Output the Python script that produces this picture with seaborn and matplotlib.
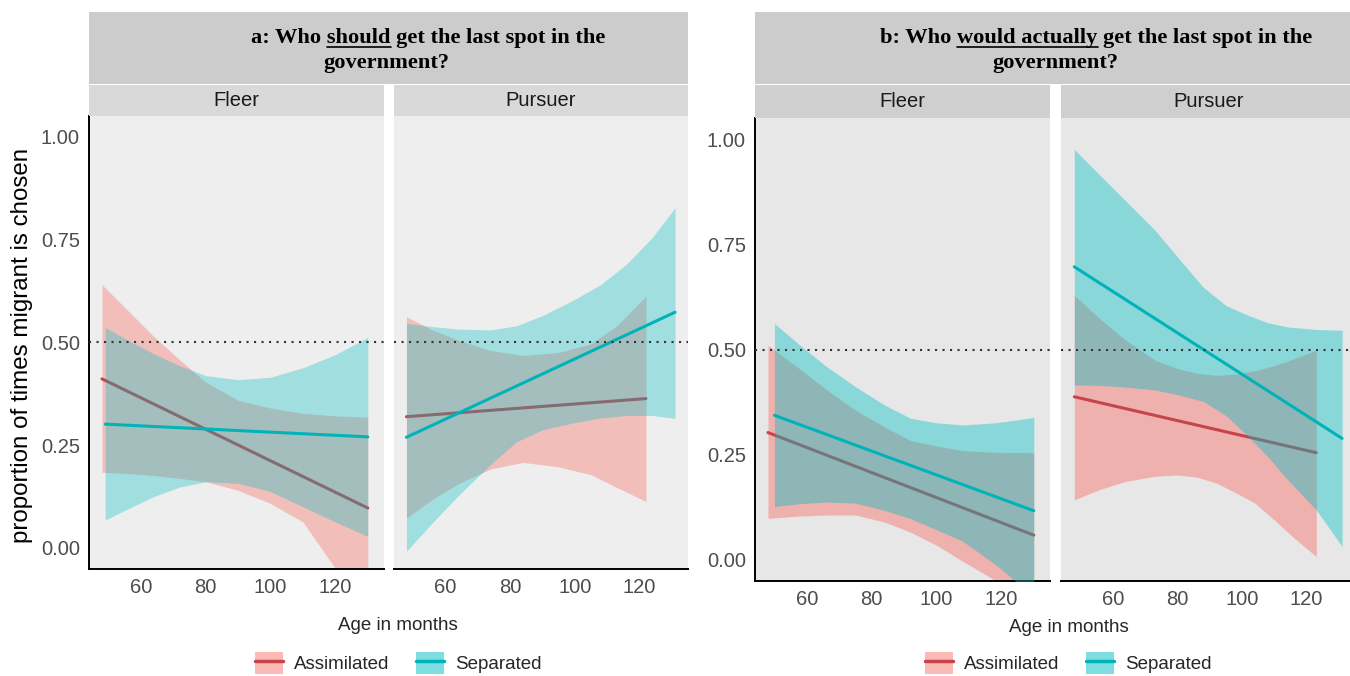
import matplotlib
matplotlib.use("Agg")
import matplotlib.pyplot as plt
from matplotlib.patches import Rectangle, Patch
from matplotlib.lines import Line2D
import seaborn as sns
import pandas as pd

W, H = 1350, 676

# ---- values ----
GROUPS = ["Assimilated", "Separated"]
FACETS = ["Fleer", "Pursuer"]
Y_TICKS = [0.00, 0.25, 0.50, 0.75, 1.00]
X_TICKS = [60, 80, 100, 120]
CHANCE = 0.5
TITLE_A = ("a: Who should get the last spot in the", "government?", "a: Who ", "should")
TITLE_B = ("b: Who would actually get the last spot in the", "government?", "b: Who ", "would actually")

# panel a / Fleer
a_fl_asm_age = [48, 56, 64, 72, 80, 90, 100, 110, 120, 130]
a_fl_asm_hi = [0.640, 0.577, 0.514, 0.457, 0.403, 0.359, 0.340, 0.327, 0.321, 0.318]
a_fl_asm_lo = [0.184, 0.181, 0.176, 0.169, 0.161, 0.140, 0.108, 0.063, -0.050, -0.170]
a_fl_asm_fit_age = [48, 130]
a_fl_asm_fit = [0.411, 0.097]

a_fl_sep_age = [49, 56, 64, 72, 80, 90, 100, 110, 120, 130]
a_fl_sep_hi = [0.536, 0.505, 0.472, 0.443, 0.419, 0.409, 0.415, 0.438, 0.470, 0.512]
a_fl_sep_lo = [0.068, 0.095, 0.125, 0.148, 0.161, 0.157, 0.137, 0.100, 0.063, 0.028]
a_fl_sep_fit_age = [49, 130]
a_fl_sep_fit = [0.301, 0.270]

# panel a / Pursuer
a_pu_asm_age = [48, 56, 64, 74, 84, 95, 105, 113, 122]
a_pu_asm_hi = [0.562, 0.530, 0.505, 0.480, 0.468, 0.475, 0.496, 0.540, 0.612]
a_pu_asm_lo = [0.073, 0.118, 0.156, 0.192, 0.208, 0.197, 0.178, 0.147, 0.113]
a_pu_asm_fit_age = [48, 122]
a_pu_asm_fit = [0.319, 0.363]

a_pu_sep_age = [48, 56, 64, 74, 82, 90, 99, 108, 116, 124, 131]
a_pu_sep_hi = [0.546, 0.538, 0.532, 0.530, 0.540, 0.565, 0.600, 0.640, 0.690, 0.755, 0.827]
a_pu_sep_lo = [-0.008, 0.061, 0.127, 0.203, 0.258, 0.287, 0.303, 0.316, 0.322, 0.322, 0.315]
a_pu_sep_fit_age = [48, 131]
a_pu_sep_fit = [0.269, 0.573]

# panel b / Fleer
b_fl_asm_age = [48, 57, 66, 75, 84, 92, 100, 108, 118, 130]
b_fl_asm_hi = [0.511, 0.459, 0.405, 0.356, 0.316, 0.284, 0.271, 0.260, 0.256, 0.255]
b_fl_asm_lo = [0.099, 0.104, 0.107, 0.107, 0.090, 0.066, 0.035, -0.003, -0.048, -0.130]
b_fl_asm_fit_age = [48, 130]
b_fl_asm_fit = [0.303, 0.059]

b_fl_sep_age = [50, 58, 66, 75, 84, 92, 100, 108, 118, 124, 130]
b_fl_sep_hi = [0.562, 0.510, 0.460, 0.412, 0.368, 0.337, 0.326, 0.321, 0.326, 0.332, 0.339]
b_fl_sep_lo = [0.127, 0.134, 0.138, 0.135, 0.118, 0.098, 0.072, 0.045, -0.010, -0.048, -0.090]
b_fl_sep_fit_age = [50, 130]
b_fl_sep_fit = [0.344, 0.117]

# panel b / Pursuer
b_pu_asm_age = [48, 56, 64, 73, 80, 86, 92, 98, 104, 110, 116, 123]
b_pu_asm_hi = [0.629, 0.573, 0.522, 0.475, 0.455, 0.444, 0.439, 0.442, 0.450, 0.462, 0.478, 0.499]
b_pu_asm_lo = [0.143, 0.168, 0.187, 0.199, 0.202, 0.197, 0.183, 0.160, 0.135, 0.095, 0.053, 0.008]
b_pu_asm_fit_age = [48, 123]
b_pu_asm_fit = [0.388, 0.255]

b_pu_sep_age = [48, 56, 64, 73, 80, 88, 95, 102, 108, 114, 123, 131]
b_pu_sep_hi = [0.976, 0.914, 0.853, 0.784, 0.720, 0.648, 0.605, 0.581, 0.564, 0.554, 0.548, 0.546]
b_pu_sep_lo = [0.416, 0.415, 0.411, 0.404, 0.393, 0.377, 0.343, 0.293, 0.245, 0.192, 0.119, 0.032]
b_pu_sep_fit_age = [48, 131]
b_pu_sep_fit = [0.697, 0.289]

# ---- long tables ----
ribbon_rows, fit_rows = [], []


def add_series(panel, facet, group, age, lo, hi, fit_age, fit):
    for x, l, h in zip(age, lo, hi):
        ribbon_rows.append(dict(panel=panel, facet=facet, group=group, age=x, lo=l, hi=h))
    for x, f in zip(fit_age, fit):
        fit_rows.append(dict(panel=panel, facet=facet, group=group, age=x, fit=f))


add_series("a", "Fleer", "Assimilated", a_fl_asm_age, a_fl_asm_lo, a_fl_asm_hi, a_fl_asm_fit_age, a_fl_asm_fit)
add_series("a", "Fleer", "Separated", a_fl_sep_age, a_fl_sep_lo, a_fl_sep_hi, a_fl_sep_fit_age, a_fl_sep_fit)
add_series("a", "Pursuer", "Assimilated", a_pu_asm_age, a_pu_asm_lo, a_pu_asm_hi, a_pu_asm_fit_age, a_pu_asm_fit)
add_series("a", "Pursuer", "Separated", a_pu_sep_age, a_pu_sep_lo, a_pu_sep_hi, a_pu_sep_fit_age, a_pu_sep_fit)
add_series("b", "Fleer", "Assimilated", b_fl_asm_age, b_fl_asm_lo, b_fl_asm_hi, b_fl_asm_fit_age, b_fl_asm_fit)
add_series("b", "Fleer", "Separated", b_fl_sep_age, b_fl_sep_lo, b_fl_sep_hi, b_fl_sep_fit_age, b_fl_sep_fit)
add_series("b", "Pursuer", "Assimilated", b_pu_asm_age, b_pu_asm_lo, b_pu_asm_hi, b_pu_asm_fit_age, b_pu_asm_fit)
add_series("b", "Pursuer", "Separated", b_pu_sep_age, b_pu_sep_lo, b_pu_sep_hi, b_pu_sep_fit_age, b_pu_sep_fit)

ribbons = pd.DataFrame(ribbon_rows)
fits = pd.DataFrame(fit_rows)

# ---- style ----
sns.set_style("white")
plt.rcParams["font.family"] = ["Liberation Sans", "DejaVu Sans"]

FILL = {"Assimilated": "#F8766D", "Separated": "#00BFC4"}
LINE = {"Assimilated": "#C6444A", "Separated": "#00B3B9"}
ALPHA = {("a", "Assimilated"): 0.40, ("a", "Separated"): 0.32,
         ("b", "Assimilated"): 0.47, ("b", "Separated"): 0.40}
PANEL_BG = {"a": "#EEEEEE", "b": "#E7E7E7"}
STRIP_BG = {"a": "#D9D9D9", "b": "#CFCFCF"}
TITLE_BG = {"a": "#CCCCCC", "b": "#CCCCCC"}

# pixel boxes (left, top, right, bottom) of every facet
AX_BOX = {
    ("a", "Fleer"): (89, 116, 384, 568.5),
    ("a", "Pursuer"): (393.5, 116, 688, 568.5),
    ("b", "Fleer"): (755, 118.3, 1050, 581),
    ("b", "Pursuer"): (1061.4, 118.3, 1355, 581),
}


def fig_rect(l, t, r, b):
    return [l / W, 1 - b / H, (r - l) / W, (b - t) / H]


fig = plt.figure(figsize=(W / 100, H / 100), dpi=100)

for (panel, facet), (l, t, r, b) in AX_BOX.items():
    ax = fig.add_axes(fig_rect(l, t, r, b))
    ax.set_facecolor(PANEL_BG[panel])
    z = 2
    for group in GROUPS:
        rib = ribbons[(ribbons.panel == panel) & (ribbons.facet == facet) & (ribbons.group == group)]
        ax.fill_between(rib.age, rib.lo, rib.hi, color=FILL[group], alpha=ALPHA[(panel, group)],
                        linewidth=0, zorder=z)
        ft = fits[(fits.panel == panel) & (fits.facet == facet) & (fits.group == group)]
        sns.lineplot(data=ft, x="age", y="fit", color=LINE[group], linewidth=2.2,
                     ax=ax, zorder=z + 1, legend=False)
        z += 2
    ax.axhline(CHANCE, color="#333333", linestyle=(0, (1, 2.6)), linewidth=1.5, zorder=10)

    ax.set_xlim(44, 135)
    ax.set_ylim(-0.05, 1.05)
    ax.set_xlabel("")
    ax.set_ylabel("")
    ax.set_xticks(X_TICKS)
    ax.set_yticks(Y_TICKS)
    ax.set_yticklabels([f"{v:.2f}" for v in Y_TICKS])
    ax.grid(False)
    for side in ["top", "right"]:
        ax.spines[side].set_visible(False)
    ax.spines["bottom"].set_color("black")
    ax.spines["bottom"].set_linewidth(1.4)
    ax.tick_params(axis="both", length=3.6, width=1.0, color="#333333",
                   labelsize=14.5, labelcolor="#4D4D4D", pad=3)
    if facet == "Fleer":
        ax.spines["left"].set_color("black")
        ax.spines["left"].set_linewidth(1.4)
    else:
        ax.spines["left"].set_visible(False)
        ax.tick_params(axis="y", left=False, labelleft=False)

    # facet strip
    sl, sb, sw, sh = fig_rect(l, 85, r, t)
    fig.add_artist(Rectangle((sl, sb), sw, sh, transform=fig.transFigure,
                             facecolor=STRIP_BG[panel], edgecolor="none"))
    fig.text((l + r) / 2 / W, 1 - (85 + t) / 2 / H, facet, ha="center", va="center",
             fontsize=14.5, color="#1A1A1A")

# title boxes across each pair of facets
title_font = dict(family="Liberation Serif", weight="bold", size=16.1, color="black")
title_texts = []
for panel, (l, r), txt, c1, c2 in [("a", (89, 688), TITLE_A, 428.4, 386.7),
                                   ("b", (755, 1350), TITLE_B, 1096.5, 1055.5)]:
    tl, tb, tw, th = fig_rect(l, 12, r, 84)
    fig.add_artist(Rectangle((tl, tb), tw, th, transform=fig.transFigure,
                             facecolor=TITLE_BG[panel], edgecolor="none"))
    t1 = fig.text(c1 / W, 1 - 43 / H, txt[0], ha="center", va="baseline", **title_font)
    fig.text(c2 / W, 1 - 68 / H, txt[1], ha="center", va="baseline", **title_font)
    title_texts.append((t1, txt))

fig.text(22 / W, 1 - 345 / H, "proportion of times migrant is chosen", rotation=90,
         ha="center", va="center", fontsize=17.4, color="black")
fig.text(398 / W, 1 - 625 / H, "Age in months", ha="center", va="center", fontsize=13.5)
fig.text(1069 / W, 1 - 627 / H, "Age in months", ha="center", va="center", fontsize=13.5)

# legends
handles = [(Patch(facecolor=FILL[g], alpha=0.5, edgecolor="none"),
            Line2D([], [], color=LINE[g], linewidth=2.5)) for g in GROUPS]
for cx in [398, 1068]:
    fig.legend(handles, GROUPS, loc="center", bbox_to_anchor=(cx / W, 1 - 663 / H),
               ncol=2, frameon=False, fontsize=13.5, handlelength=1.5, handleheight=1.4,
               handletextpad=0.6, columnspacing=1.4, borderaxespad=0)

# underline the emphasised words of the titles
fig.canvas.draw()
renderer = fig.canvas.get_renderer()
for t1, txt in title_texts:
    prop = t1.get_fontproperties()
    x0 = t1.get_window_extent(renderer).x0
    w_upto = renderer.get_text_width_height_descent(txt[2] + txt[3], prop, ismath=False)[0]
    w_word = renderer.get_text_width_height_descent(txt[3], prop, ismath=False)[0]
    ya = (H - 46.5) / H
    fig.add_artist(Line2D([(x0 + w_upto - w_word) / W, (x0 + w_upto) / W], [ya, ya],
                          transform=fig.transFigure, color="black", linewidth=1.2))

fig.savefig("out.png", dpi=100)
